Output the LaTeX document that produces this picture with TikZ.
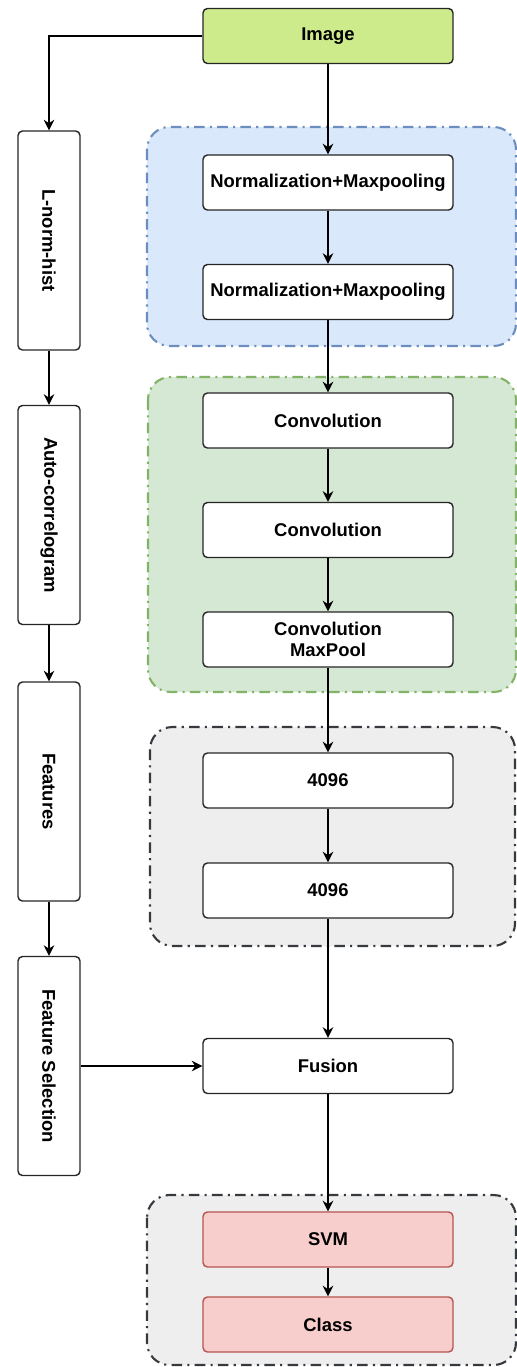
\documentclass[tikz,border=0pt]{standalone}
\usepackage{fontspec}
\setsansfont{Liberation Sans}
\usetikzlibrary{arrows.meta, positioning}
\definecolor{imggreen}{HTML}{CDEB8B}
\definecolor{bluefill}{HTML}{DAE8FC}
\definecolor{blueline}{HTML}{6C8EBF}
\definecolor{greenfill}{HTML}{D5E8D4}
\definecolor{greenline}{HTML}{82B366}
\definecolor{grayfill}{HTML}{EEEEEE}
\definecolor{grayline}{HTML}{36393D}
\definecolor{redfill}{HTML}{F8CECC}
\definecolor{redline}{HTML}{B85450}
\begin{document}
\begin{tikzpicture}[x=0.02cm,y=0.02cm,
    >={Stealth[length=6pt,width=6pt]},
    box/.style={rectangle,rounded corners=2.5pt,draw=black!85,line width=0.8pt,fill=white,
      minimum width=5cm,minimum height=1.1cm,inner sep=1pt,align=center,
      font=\sffamily\bfseries\fontsize{10.5}{12}\selectfont},
    side/.style={box,rotate=-90,minimum width=4.38cm,minimum height=1.24cm},
    group/.style={rounded corners=0.45cm,line width=1.2pt,dash pattern=on 6pt off 3pt on 1.2pt off 3pt},
    link/.style={->,line width=0.8pt}]

  \useasboundingbox (0,0) rectangle (517,-1367);

  % dashed groups
  \draw[group,draw=blueline,fill=bluefill] (147,-127) rectangle (516,-346);
  \draw[group,draw=greenline,fill=greenfill] (148,-377) rectangle (516,-692);
  \draw[group,draw=grayline,fill=grayfill] (150,-727) rectangle (515,-946);
  \draw[group,draw=grayline,fill=grayfill] (147,-1195) rectangle (516,-1365);

  % main column
  \node[box,fill=imggreen] (img) at (328,-36) {Image};
  \node[box] (nm1) at (328,-182.5) {Normalization+Maxpooling};
  \node[box] (nm2) at (328,-292) {Normalization+Maxpooling};
  \node[box] (cv1) at (328,-420.5) {Convolution};
  \node[box] (cv2) at (328,-530) {Convolution};
  \node[box] (cv3) at (328,-639.5) {Convolution\\MaxPool};
  \node[box] (fc1) at (328,-780.5) {4096};
  \node[box] (fc2) at (328,-890.5) {4096};
  \node[box] (fus) at (328,-1066) {Fusion};
  \node[box,fill=redfill,draw=redline] (svm) at (328,-1239.5) {SVM};
  \node[box,fill=redfill,draw=redline] (cls) at (328,-1324.5) {Class};

  % side column
  \node[side] (lnh) at (49,-240.5) {L-norm-hist};
  \node[side] (acg) at (49,-515) {Auto-correlogram};
  \node[side] (feat) at (49,-791.5) {Features};
  \node[side] (fsel) at (49,-1066) {Feature Selection};

  \draw[link] (img.west) -| (lnh);
  \draw[link] (img) -- (nm1);
  \draw[link] (nm1) -- (nm2);
  \draw[link] (nm2) -- (cv1);
  \draw[link] (cv1) -- (cv2);
  \draw[link] (cv2) -- (cv3);
  \draw[link] (cv3) -- (fc1);
  \draw[link] (fc1) -- (fc2);
  \draw[link] (fc2) -- (fus);
  \draw[link] (fus) -- (svm);
  \draw[link] (svm) -- (cls);
  \draw[link] (lnh) -- (acg);
  \draw[link] (acg) -- (feat);
  \draw[link] (feat) -- (fsel);
  \draw[link] (fsel) -- (fus);
\end{tikzpicture}
\end{document}
